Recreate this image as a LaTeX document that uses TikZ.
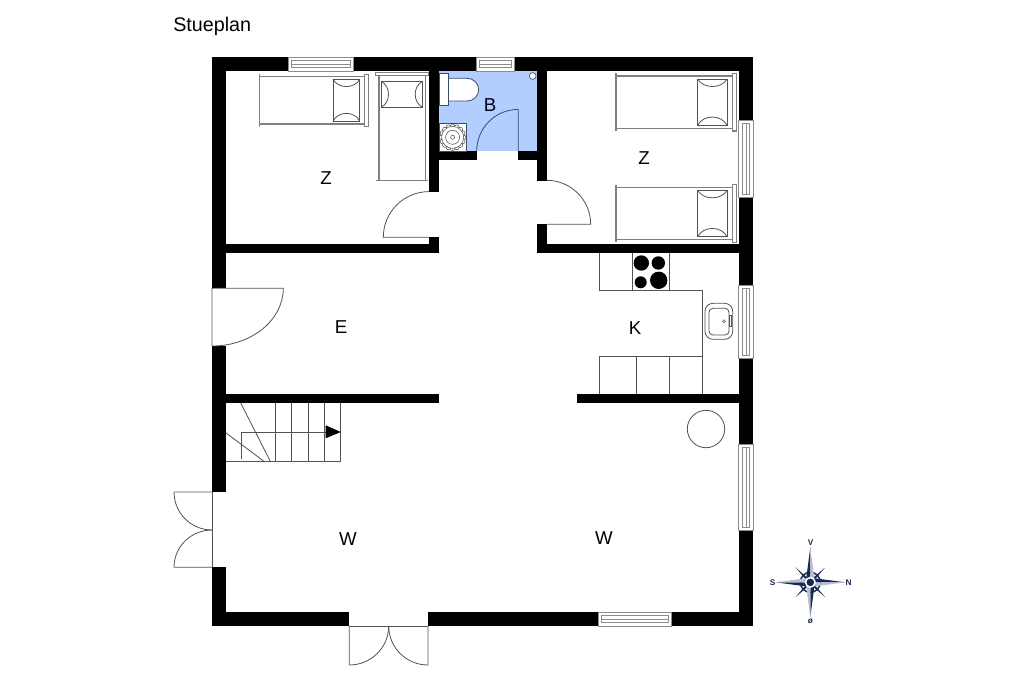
\documentclass[tikz,border=0pt]{standalone}
\usepackage{fontspec}
\setmainfont{Liberation Sans}
\definecolor{bathblue}{RGB}{178,206,255}
\definecolor{bathline}{RGB}{60,75,105}
\definecolor{compassnavy}{RGB}{22,40,84}
\tikzset{
  plan/.style={draw=black!68, line width=.6pt},
  winline/.style={draw=black!45, line width=.6pt},
  bedline/.style={draw=black!50, line width=1pt},
  roomlabel/.style={font=\fontsize{14}{15}\selectfont},
  compasslabel/.style={font=\bfseries\fontsize{6.2}{7}\selectfont, text=compassnavy}
}
\begin{document}
\begin{tikzpicture}[x=.75pt, y=.75pt, yscale=-1]
\useasboundingbox (0,0) rectangle (1024,682);
% bathroom floor
\fill [bathblue] (439,71) rectangle (537.3,151);
% outer walls
\fill (211.7,57) rectangle (753,70.7);
\fill (738.7,57) rectangle (753,626);
\fill (211.7,57) rectangle (225.7,288.3);
\fill (211.7,346) rectangle (225.7,492);
\fill (211.7,567.3) rectangle (225.7,626);
\fill (211.7,611.7) rectangle (349.3,626);
\fill (428,611.7) rectangle (753,626);
% inner walls
\fill (225.7,243.5) rectangle (439,253.3);
\fill (429,237.3) rectangle (439,253.3);
\fill (429,71) rectangle (439,191.7);
\fill (429,151) rectangle (477,160.3);
\fill (518.3,151) rectangle (546.7,160.3);
\fill (537.3,71) rectangle (546.7,180.7);
\fill (537.3,224.3) rectangle (546.7,253.3);
\fill (537.3,244) rectangle (738.7,253.3);
\fill (225.7,393.5) rectangle (439,403);
\fill (576.7,393.5) rectangle (738.7,403);
% windows
\foreach \xa/\xb/\ya in {288.3/353.7/57, 476.7/514.7/57, 598/671.3/612} {
  \draw [winline, fill=white] (\xa,\ya) rectangle (\xb,\ya+14);
  \draw [winline] (\xa+3,\ya+3.7) rectangle (\xb-3,\ya+10.3);
  \draw [winline] (\xa+3,\ya+7) -- (\xb-3,\ya+7);
}
\foreach \ya/\yb in {120/197.3, 285.7/358.7, 444.7/530} {
  \draw [winline, fill=white] (738.7,\ya) rectangle (753,\yb);
  \draw [winline] (742.4,\ya+3) rectangle (749.6,\yb-3);
  \draw [winline] (746,\ya+3) -- (746,\yb-3);
}
% doors
\draw [plan] (212,346) -- (212,288.3) -- (283.3,288.3) arc [start angle=0, end angle=90, x radius=71.3, y radius=57.7];
\draw [plan] (429,237.3) -- (383.3,237.3) arc [start angle=180, end angle=270, radius=45.7];
\draw [plan] (546.7,224.3) -- (590.7,224.3) arc [start angle=0, end angle=-90, radius=44];
\draw [bathline, line width=.6pt] (518.3,151) -- (518.3,109.4) arc [start angle=270, end angle=180, radius=41.6];
\draw [plan] (212,492) -- (212,567.3);
\draw [plan] (212,492) -- (174,492) arc [start angle=180, end angle=90, radius=38];
\draw [plan] (212,567.3) -- (174,567.3) arc [start angle=180, end angle=270, x radius=38, y radius=37.3];
\draw [plan] (349.3,626) -- (428,626);
\draw [plan] (349.3,626) -- (349.3,665) arc [start angle=90, end angle=0, x radius=39.4, y radius=39];
\draw [plan] (428,626) -- (428,665) arc [start angle=90, end angle=180, x radius=39.3, y radius=39];
% beds against the walls
\foreach \ya/\yb/\pa/\pb in {76/128.3/79/125.3, 187.3/239.7/190.3/236.7} {
  \draw [bedline] (616,\ya) -- (732.7,\ya);
  \draw [bedline] (616,\yb) -- (732.7,\yb);
  \draw [bedline] (616,\ya-2.7) -- (616,\yb+2.7);
  \draw [bedline] (732.7,\ya-2.7) rectangle (736.7,\yb+2.7);
  \draw [plan] (697.7,\pa) rectangle (727,\pb);
  \draw [plan] (697.7,\pa) .. controls (703,\pa+10) and (721.7,\pa+10) .. (727,\pa);
  \draw [plan] (697.7,\pb) .. controls (703,\pb-11) and (721.7,\pb-11) .. (727,\pb);
}
\draw [bedline] (259.3,76.7) -- (364.7,76.7);
\draw [bedline] (259.3,124) -- (364.7,124);
\draw [bedline] (259.3,74.3) -- (259.3,126.7);
\draw [bedline] (364.7,74.3) rectangle (368.3,126.7);
\draw [plan] (333,79.3) rectangle (359.7,121.3);
\draw [plan] (333,79.3) .. controls (338,89) and (354.7,89) .. (359.7,79.3);
\draw [plan] (333,121.3) .. controls (338,110.7) and (354.7,110.7) .. (359.7,121.3);
\draw [bedline] (379,75) -- (379,180.7);
\draw [bedline] (425.7,75) -- (425.7,180.7);
\draw [bedline] (375.7,180.7) -- (428.3,180.7);
\draw [bedline] (375.7,72.7) rectangle (428.3,75.5);
\draw [plan] (381,81.3) rectangle (422.7,107.3);
\draw [plan] (381,81.3) .. controls (391,86) and (391,102.6) .. (381,107.3);
\draw [plan] (422.7,81.3) .. controls (412.7,86) and (412.7,102.6) .. (422.7,107.3);
% bathroom fittings
\draw [bathline, fill=white, line width=.6pt] (448.3,78.3) -- (467,78.3) arc [start angle=-90, end angle=90, x radius=11.7, y radius=11.35] -- (448.3,101);
\draw [bathline, fill=white, line width=.6pt] (439,73.3) rectangle (448.3,105.7);
\draw [bathline, fill=white, line width=.6pt] (439,123.3) rectangle (466.7,151);
\foreach \a in {0,22.5,...,337.5} {
  \draw [plan, line width=.4pt] (452.6,137.3) ++(\a:11) circle [radius=2.3];
}
\draw [plan, fill=white, line width=.4pt] (452.6,137.3) circle [radius=11];
\draw [plan, line width=.4pt] (452.6,137.3) circle [radius=7];
\draw [plan, line width=.4pt] (452.6,137.3) circle [radius=2];
\draw [bathline, fill=white, line width=.5pt] (532.7,76) circle [radius=3.4];
% kitchen
\draw [plan] (599.3,253.3) -- (599.3,290.3) -- (702.3,290.3) -- (702.3,393.5);
\draw [plan] (632.3,253.3) -- (632.3,290.3);
\draw [plan] (669.3,253.3) -- (669.3,290.3);
\draw [plan] (599.3,393.5) -- (599.3,356.3) -- (702.3,356.3);
\draw [plan] (636,356.3) -- (636,393.5);
\draw [plan] (669.3,356.3) -- (669.3,393.5);
\fill (641.3,263) circle [radius=7.7];
\fill (658.3,263) circle [radius=6.7];
\fill (640.7,282.3) circle [radius=6];
\fill (658.7,280.3) circle [radius=8.7];
\draw [plan, rounded corners=6pt] (705,303.3) rectangle (732.7,339.3);
\draw [plan, rounded corners=3pt] (709,308.3) rectangle (729,335);
\draw [plan, line width=.4pt] (729,315.5) rectangle (731,326.5);
\draw [plan, line width=.4pt] (724,321.3) circle [radius=1.5];
\draw [plan] (706,429) circle [radius=18.7];
% stairs
\draw [plan] (225.7,461.3) -- (340.7,461.3) -- (340.7,403);
\foreach \x in {275.3,291.7,308,324.3} {
  \draw [plan] (\x,403) -- (\x,461.3);
}
\draw [plan] (240.7,403) -- (270.3,461.3);
\draw [plan] (225.7,432.7) -- (264,461.3);
\draw [plan] (241.7,458.7) -- (241.7,432) -- (326,432);
\fill (325.7,425.3) -- (340.7,432) -- (325.7,438.3) -- cycle;
% room names
\node [roomlabel] (zwest) at (326,178) {Z};
\node [roomlabel, text=black!90!blue] (bath) at (490,105) {B};
\node [roomlabel] (zeast) at (644,158) {Z};
\node [roomlabel] (entry) at (341,327) {E};
\node [roomlabel] (kitchen) at (635,328) {K};
\node [roomlabel] (wwest) at (348,539) {W};
\node [roomlabel] (weast) at (604,538) {W};
\node [font=\fontsize{14.8}{16}\selectfont, anchor=base west, inner sep=0pt] (title) at (173,31.5) {Stueplan};
% compass
\begin{scope}[shift={(810.3,582.3)}]
\foreach \a in {45,135,225,315} {
  \fill [compassnavy, rotate=\a] (0,-1.6) -- (21,0) -- (0,1.6) -- cycle;
}
\draw [compassnavy, line width=1.1pt] (0,0) circle [radius=10];
\foreach \a in {0,90,180,270} {
  \fill [compassnavy, rotate=\a] (0,0) -- (35,0) -- (4.5,-4) -- cycle;
  \fill [compassnavy!30, rotate=\a] (0,0) -- (35,0) -- (4.5,4) -- cycle;
}
\fill [white] (0,0) circle [radius=5.6];
\fill [compassnavy] (0,0) circle [radius=3.8];
\end{scope}
\node [compasslabel] (north) at (810.7,543) {V};
\node [compasslabel] (west) at (772.5,582.5) {S};
\node [compasslabel] (east) at (848.5,582.5) {N};
\node [compasslabel] (south) at (810.3,621) {ø};
\end{tikzpicture}
\end{document}
